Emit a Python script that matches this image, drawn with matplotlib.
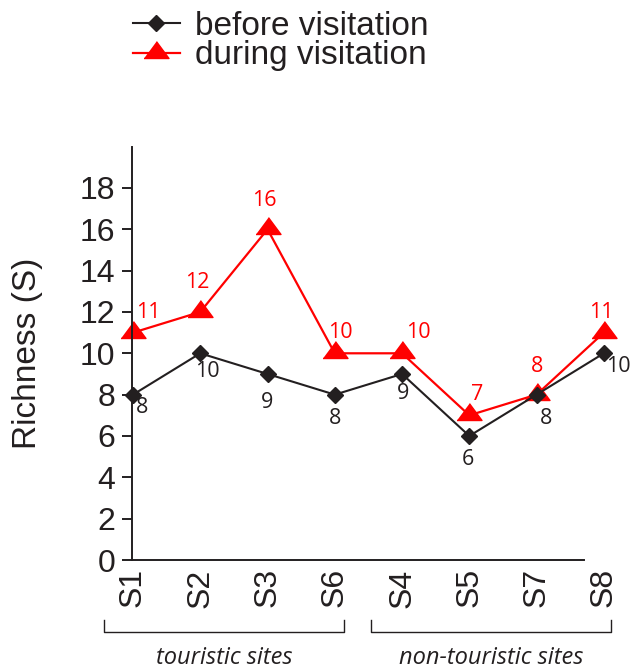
import matplotlib
matplotlib.use('Agg')
import matplotlib.pyplot as plt
from matplotlib.lines import Line2D
from matplotlib.transforms import blended_transform_factory

sites = ['S1', 'S2', 'S3', 'S6', 'S4', 'S5', 'S7', 'S8']
before = [8, 10, 9, 8, 9, 6, 8, 10]
during = [11, 12, 16, 10, 10, 7, 8, 11]
groups = ['touristic sites', 'non-touristic sites']
group_idx = [(0, 3), (4, 7)]

DARK = '#231f20'
RED = '#ff0000'
DPI = 100
px = 72.0 / DPI

# label offsets in pixels (dx, dy down)
off_before = [(9, 13), (7, 18), (0, 29), (0, 24), (1, 20), (-1, 24), (9, 24), (15, 13)]
off_during = [(15, -20), (-3, -29), (-3, -29), (6, -21), (16, -21), (8, -21), (0, -28), (-3, -20)]

plt.rcParams['font.family'] = ['Liberation Sans', 'DejaVu Sans']

fig = plt.figure(figsize=(6.35, 6.69), dpi=DPI)
ax = fig.add_axes([132 / 635, 109 / 669, 492 / 635, 413.4 / 669])

tri = [(-1, -0.4), (1, -0.4), (0, 0.95)]
x = list(range(len(sites)))
ax.plot(x, before, color=DARK, lw=1.5, marker='D', ms=8.5, mfc=DARK, mec=DARK,
        label='before visitation', clip_on=False, zorder=3)
ax.plot(x, during, color=RED, lw=1.6, marker=tri, ms=18, mfc=RED, mec=RED,
        label='during visitation', clip_on=False, zorder=2)

for i in x:
    dx, dy = off_before[i]
    ax.annotate(str(before[i]), (i, before[i]), xytext=(dx * px, -dy * px),
                textcoords='offset points', ha='center', va='center',
                fontsize=15.5, color=DARK, family='Open Sans')
    dx, dy = off_during[i]
    ax.annotate(str(during[i]), (i, during[i]), xytext=(dx * px, -dy * px),
                textcoords='offset points', ha='center', va='center',
                fontsize=15.5, color=RED, family='Open Sans')

ax.set_xlim(-0.015, 7.3)
ax.set_ylim(0, 20)
ax.set_yticks(range(0, 19, 2))
ax.set_xticks(x)
ax.set_xticklabels(sites, rotation=90)
ax.tick_params(axis='y', direction='out', length=7, width=1.4, pad=5,
               labelsize=23, colors=DARK)
ax.tick_params(axis='x', length=0, pad=6, labelsize=23, colors=DARK)
for s in ['top', 'right']:
    ax.spines[s].set_visible(False)
for s in ['left', 'bottom']:
    ax.spines[s].set_linewidth(1.4)
    ax.spines[s].set_color(DARK)
ax.spines['bottom'].set_bounds(-0.015, 6.7)
ax.set_ylabel('Richness (S)', fontsize=24, color=DARK)
ax.yaxis.set_label_coords(-0.18, 0.5)

# group brackets under the x axis
tr = blended_transform_factory(ax.transData, ax.transAxes)
pads = [(-0.43, 0.13), (-0.46, 0.10)]
for (a, b), (pl, pr), name in zip(group_idx, pads, groups):
    x0, x1 = a + pl, b + pr
    ax.add_line(Line2D([x0, x0, x1, x1], [-0.145, -0.174, -0.174, -0.145],
                       transform=tr, color=DARK, lw=1.0, clip_on=False))
    ax.text((x0 + x1) / 2, -0.237, name, transform=tr, ha='center', va='center',
            fontsize=17, style='italic', family='Open Sans', color=DARK)

fig.legend(loc='upper left', bbox_to_anchor=(133 / 635, 1 - 11 / 669),
           frameon=False, fontsize=24, labelspacing=-0.05, handlelength=1.4,
           handletextpad=0.45, borderpad=0, borderaxespad=0, labelcolor=DARK)

fig.savefig('out.png', dpi=DPI)
